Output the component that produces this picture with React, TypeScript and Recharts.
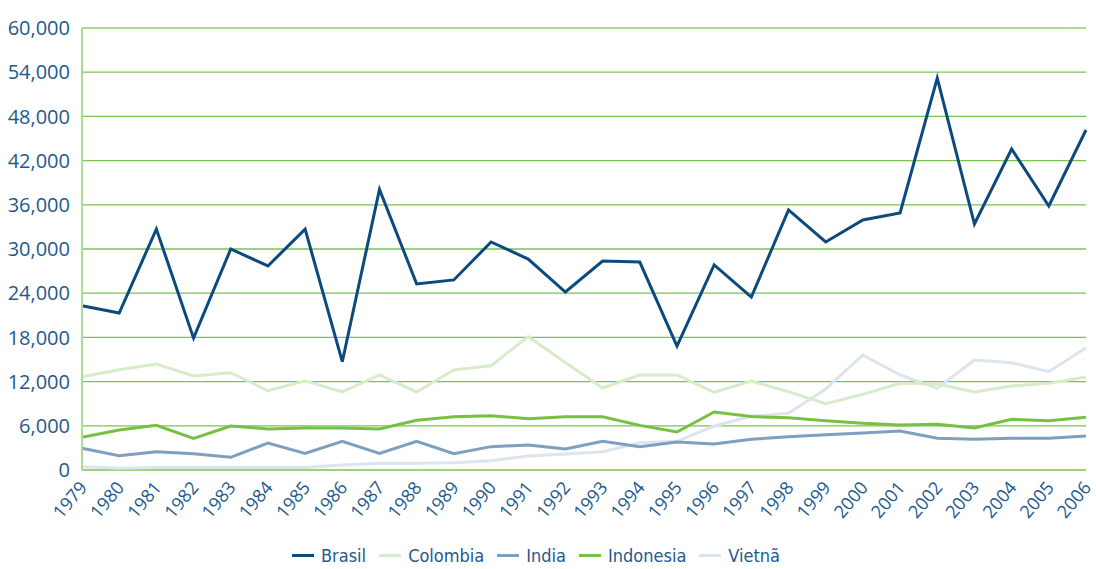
import { CartesianGrid, Legend, Line, LineChart, ReferenceLine, XAxis, YAxis } from "recharts";

const YEARS = [
  "1979", "1980", "1981", "1982", "1983", "1984", "1985", "1986", "1987", "1988",
  "1989", "1990", "1991", "1992", "1993", "1994", "1995", "1996", "1997", "1998",
  "1999", "2000", "2001", "2002", "2003", "2004", "2005", "2006",
];

const BRASIL = [
  22300, 21300, 32700, 17900, 30000, 27700, 32700, 14700, 38100, 25250,
  25800, 30950, 28640, 24160, 28370, 28230, 16830, 27830, 23480, 35300,
  30950, 33940, 34890, 53210, 33390, 43570, 35840, 46150,
];
const COLOMBIA = [
  12670, 13600, 14390, 12760, 13210, 10760, 12120, 10590, 12900, 10590,
  13570, 14160, 18100, 14600, 11130, 12900, 12900, 10550, 12080, 10630,
  9000, 10270, 11760, 11670, 10590, 11400, 11760, 12620,
];
const INDIA = [
  2950, 1940, 2480, 2210, 1720, 3660, 2260, 3890, 2260, 3890,
  2210, 3170, 3390, 2850, 3890, 3170, 3800, 3530, 4160, 4520,
  4790, 5020, 5290, 4300, 4160, 4300, 4300, 4620,
];
const INDONESIA = [
  4440, 5430, 6060, 4300, 5970, 5570, 5700, 5700, 5570, 6750,
  7240, 7370, 6960, 7240, 7240, 6060, 5160, 7870, 7250, 7100,
  6700, 6330, 6110, 6200, 5700, 6880, 6700, 7150,
];
const VIETNA = [
  450, 230, 350, 350, 350, 350, 350, 680, 900, 900,
  1000, 1270, 1900, 2170, 2480, 3710, 3890, 5970, 7290, 7690,
  11000, 15610, 12900, 11090, 14930, 14570, 13340, 16600,
];
const Y_TICKS = [0, 6000, 12000, 18000, 24000, 30000, 36000, 42000, 48000, 54000, 60000];

const SERIES = [
  { key: "Brasil", color: "#0b4a7e" },
  { key: "Colombia", color: "#d8ecc8" },
  { key: "India", color: "#7f9fbf" },
  { key: "Indonesia", color: "#76c043" },
  { key: "Vietnã", color: "#dce5ee" },
];

const TEXT = "#1d5a8e";
const GRID = "#7cc24f";
const BORDER = "#acdc8f";

const data = YEARS.map((year, i) => ({
  year,
  Brasil: BRASIL[i],
  Colombia: COLOMBIA[i],
  India: INDIA[i],
  Indonesia: INDONESIA[i],
  "Vietnã": VIETNA[i],
}));

function YearTick({ x, y, payload }: any) {
  return (
    <text
      x={x + 6}
      y={y + 10}
      transform={`rotate(-50, ${x + 6}, ${y + 10})`}
      textAnchor="end"
      fill={TEXT}
      fontSize={18}
      fontFamily="'Open Sans', sans-serif"
    >
      {payload.value}
    </text>
  );
}

function LegendRow() {
  return (
    <div
      style={{
        display: "flex",
        justifyContent: "center",
        gap: 13,
        paddingRight: 14,
        fontFamily: "'DejaVu Sans Condensed', sans-serif",
        fontStretch: "condensed",
        fontSize: 18,
        color: TEXT,
      }}
    >
      {SERIES.map((s) => (
        <span key={s.key} style={{ display: "flex", alignItems: "center" }}>
          <span
            style={{ display: "inline-block", width: 22, height: 3, background: s.color, marginRight: 7 }}
          />
          {s.key}
        </span>
      ))}
    </div>
  );
}

export default function App() {
  return (
    <div>
      <style>{"body{margin:0}"}</style>
      <LineChart width={1096} height={569} data={data} margin={{ top: 28, right: 10, left: 0, bottom: 0 }}>
        <CartesianGrid horizontal vertical={false} stroke={GRID} strokeWidth={1.3} />
        <XAxis
          dataKey="year"
          interval={0}
          tick={<YearTick />}
          tickLine={false}
          axisLine={false}
          height={75}
        />
        <YAxis
          domain={[0, 60000]}
          ticks={Y_TICKS}
          width={82}
          tickLine={false}
          axisLine={{ stroke: BORDER, strokeWidth: 2 }}
          tickFormatter={(v: number) => v.toLocaleString("en-US")}
          tick={{ fill: TEXT, fontSize: 20, fontFamily: "'Open Sans', sans-serif" }}
          tickMargin={6}
        />
        <YAxis yAxisId="r" orientation="right" width={0} tick={false} tickLine={false} axisLine={{ stroke: BORDER, strokeWidth: 2 }} />
        <ReferenceLine y={60000} stroke={BORDER} strokeWidth={2} />
        {SERIES.slice().reverse().map((s) => (
          <Line
            key={s.key}
            dataKey={s.key}
            type="linear"
            stroke={s.color}
            strokeWidth={3}
            dot={false}
            isAnimationActive={false}
          />
        ))}
        <Legend verticalAlign="bottom" height={24} content={<LegendRow />} />
      </LineChart>
    </div>
  );
}
